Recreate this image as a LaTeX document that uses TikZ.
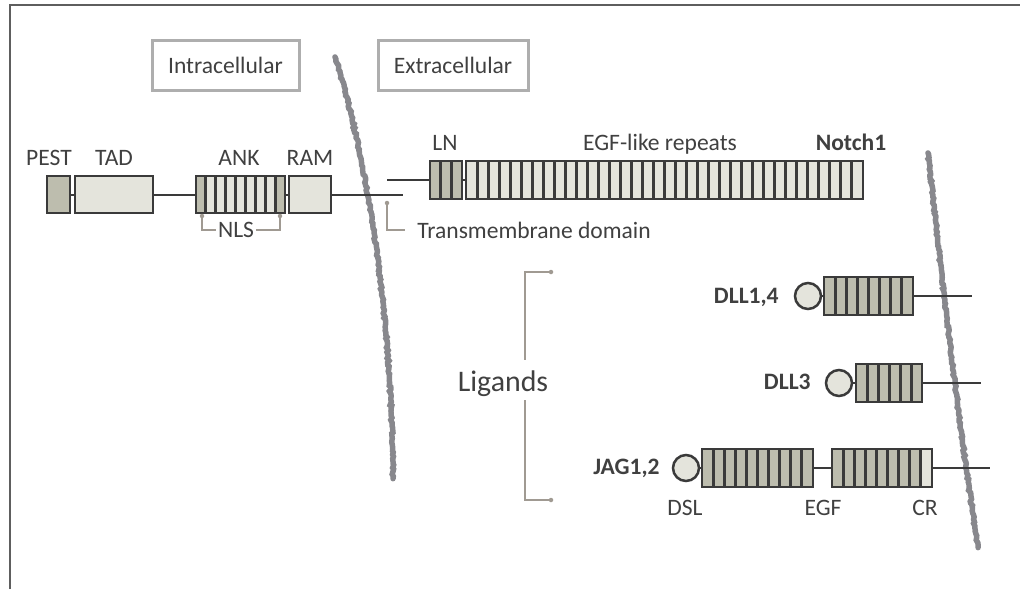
\documentclass[tikz,border=0pt]{standalone}
\usepackage{fontspec}
\setmainfont{Carlito}
\usepackage{tikz}
\usetikzlibrary{calc, decorations.pathmorphing}

\definecolor{ink}{HTML}{404040}
\definecolor{edgegray}{HTML}{3A3A3A}
\definecolor{darkfill}{HTML}{BDBDAE}
\definecolor{litefill}{HTML}{E4E4DC}
\definecolor{memgray}{HTML}{88888D}
\definecolor{hintline}{HTML}{A09A92}
\definecolor{tagline}{HTML}{AEAEAE}
\definecolor{framecol}{HTML}{5E5E5E}

\begin{document}
\begin{tikzpicture}[
    x=0.2mm, y=-0.2mm,   % 1 unit = 1 px, y runs downwards
    every node/.style={text=ink},
    lbl/.style={inner sep=0pt, anchor=base, font=\fontsize{13.4}{15}\selectfont},
    bold/.style={lbl, font=\fontsize{13.4}{15}\selectfont\bfseries},
    tag/.style={draw=tagline, line width=0.6mm, minimum height=10mm,
                font=\fontsize{13.4}{15}\selectfont},
    dom/.style={draw=edgegray, line width=0.55mm, inner sep=0pt, minimum height=7.4mm},
    dark/.style={dom, fill=darkfill},
    lite/.style={dom, fill=litefill},
    knob/.style={circle, draw=edgegray, fill=litefill, line width=0.5mm,
                 minimum size=5.2mm, inner sep=0pt},
    divider/.style={draw=edgegray, line width=0.6mm},
    % #1 = number of repeats, #2 = fill of the odd ones, #3 = their indices
    cells/.style n args={3}{path picture={
        \coordinate (pp-sw) at (path picture bounding box.south west);
        \coordinate (pp-ne) at (path picture bounding box.north east);
        \foreach \k [evaluate=\k as \ka using (\k-1)/#1,
                     evaluate=\k as \kb using \k/#1] in {#3}
          \fill[#2] ($(pp-sw)!\ka!(pp-sw -| pp-ne)$) rectangle ($(pp-sw |- pp-ne)!\kb!(pp-ne)$);
        \foreach \k [evaluate=\k as \kb using \k/#1] in {1,...,#1}
          \draw[divider] ($(pp-sw)!\kb!(pp-sw -| pp-ne)$) -- ($(pp-sw |- pp-ne)!\kb!(pp-ne)$);
    }},
    chain/.style={draw=edgegray, line width=0.4mm},
    hint/.style={draw=hintline, line width=0.35mm},
    membrane/.style={draw=memgray, line width=1.1mm, line cap=round, decorate,
                     decoration={random steps, segment length=1.2pt, amplitude=0.5pt}},
]
\useasboundingbox (0,0) rectangle (1020,589);
\pgfmathsetseed{7}

% ── frame (only top and left edges show) ───────────────────────────
\draw[framecol, line width=0.4mm] (10,589) -- (10,5) -- (1020,5);

% ── membranes ──────────────────────────────────────────────────────
\draw[membrane] (335,57) .. controls (368,160) and (392,320) .. (393,478);
\draw[membrane] (928,153) .. controls (940,260) and (955,400) .. (978,547);

% ── compartment tags ───────────────────────────────────────────────
\node[tag, minimum width=29.4mm] (intra) at (225.5,65) {Intracellular};
\node[tag, minimum width=30mm]   (extra) at (453,65)   {Extracellular};

% ── Notch1, intracellular part  y=194.5 ────────────────────────────
\node[dark, minimum width=4.6mm]  (pest) at (58.5,194.5) {};
\node[lite, minimum width=15.6mm] (tad)  at (114,194.5)  {};
\node[lite, minimum width=17.8mm, cells={9}{darkfill}{1,9}]
                                  (ank)  at (240.5,194.5) {};
\node[lite, minimum width=8.4mm]  (ram)  at (310,194.5)  {};
\coordinate (tmin)  at (403,194.5);
\coordinate (tmout) at (387,180);

% ── Notch1, extracellular part  y=180 ──────────────────────────────
\node[dark, minimum width=6.4mm, minimum height=7.6mm, cells={3}{darkfill}{0}]
                                  (ln)   at (446,180)   {};
\node[lite, minimum width=79.4mm, minimum height=7.6mm, cells={36}{litefill}{0}]
                                  (egf)  at (664.5,180) {};

\draw[chain] (pest) -- (tad);
\draw[chain] (tad)  -- (ank);
\draw[chain] (ank)  -- (ram);
\draw[chain] (ram)  -- (tmin);
\draw[chain] (tmout) -- (ln);
\draw[chain] (ln)   -- (egf);

% domain names
\node[lbl]  (lpest)  at (49,165)  {PEST};
\node[lbl]  (ltad)   at (114,165) {TAD};
\node[lbl]  (lank)   at (239,165) {ANK};
\node[lbl]  (lram)   at (310,165) {RAM};
\node[lbl]  (lln)    at (445,150) {LN};
\node[lbl]  (legf)   at (660,150) {EGF-like repeats};
\node[bold] (lnotch) at (851,150) {Notch1};

% NLS bracket under ANK
\node[lbl, anchor=center, inner xsep=1pt] (nls) at (236,230) {NLS};
\coordinate (nlsl) at (202,216);
\coordinate (nlsr) at (280,216);
\draw[hint] (nlsl) |- (nls.west);
\draw[hint] (nls.east) -| (nlsr);
\fill[hintline] (nlsl) circle (0.45mm) (nlsr) circle (0.45mm);

% transmembrane pointer
\coordinate (tmdot) at (387,203);
\node[lbl, anchor=west, inner xsep=2.4mm] (ltm) at (405,230) {Transmembrane domain};
\draw[hint] (tmdot) |- (ltm.west);
\fill[hintline] (tmdot) circle (0.45mm);

% ── ligands ────────────────────────────────────────────────────────
\node[knob] (dll14k) at (808,296) {};
\node[dark, minimum width=17.8mm, minimum height=7.6mm, cells={8}{darkfill}{0}]
            (dll14)  at (868.5,296) {};
\coordinate (dll14t) at (972,296);

\node[knob] (dll3k)  at (839,383) {};
\node[dark, minimum width=13.2mm, minimum height=7.6mm, cells={6}{darkfill}{0}]
            (dll3)   at (889,383) {};
\coordinate (dll3t)  at (981,383);

\node[knob] (jagk)   at (686,468) {};
\node[dark, minimum width=22.2mm, minimum height=7.6mm, cells={10}{darkfill}{0}]
            (jaga)   at (757.5,468) {};
\node[dark, minimum width=20mm, minimum height=7.6mm, cells={9}{litefill}{9}]
            (jagb)   at (882,468) {};
\coordinate (jagt)   at (990,468);

\draw[chain] (dll14k) -- (dll14);
\draw[chain] (dll14)  -- (dll14t);
\draw[chain] (dll3k)  -- (dll3);
\draw[chain] (dll3)   -- (dll3t);
\draw[chain] (jagk)   -- (jaga);
\draw[chain] (jaga)   -- (jagb);
\draw[chain] (jagb)   -- (jagt);

\node[bold, anchor=base east] (ldll14) at (779,303) {DLL1,4};
\node[bold, anchor=base east] (ldll3)  at (811,389) {DLL3};
\node[bold, anchor=base east] (ljag)   at (660,474) {JAG1,2};
\node[lbl] (ldsl)  at (685,515) {DSL};
\node[lbl] (legfj) at (823,515) {EGF};
\node[lbl] (lcr)   at (925,515) {CR};

% Ligands bracket
\node[lbl, font=\fontsize{17}{20}\selectfont] (lig) at (503,391) {Ligands};
\coordinate (ligtop) at (551,272);
\coordinate (ligbot) at (551,500);
\coordinate (liga)   at (525,360);
\coordinate (ligb)   at (525,400);
\draw[hint] (ligtop) -| (liga);
\draw[hint] (ligbot) -| (ligb);
\fill[hintline] (ligtop) circle (0.45mm) (ligbot) circle (0.45mm);

\end{tikzpicture}
\end{document}
